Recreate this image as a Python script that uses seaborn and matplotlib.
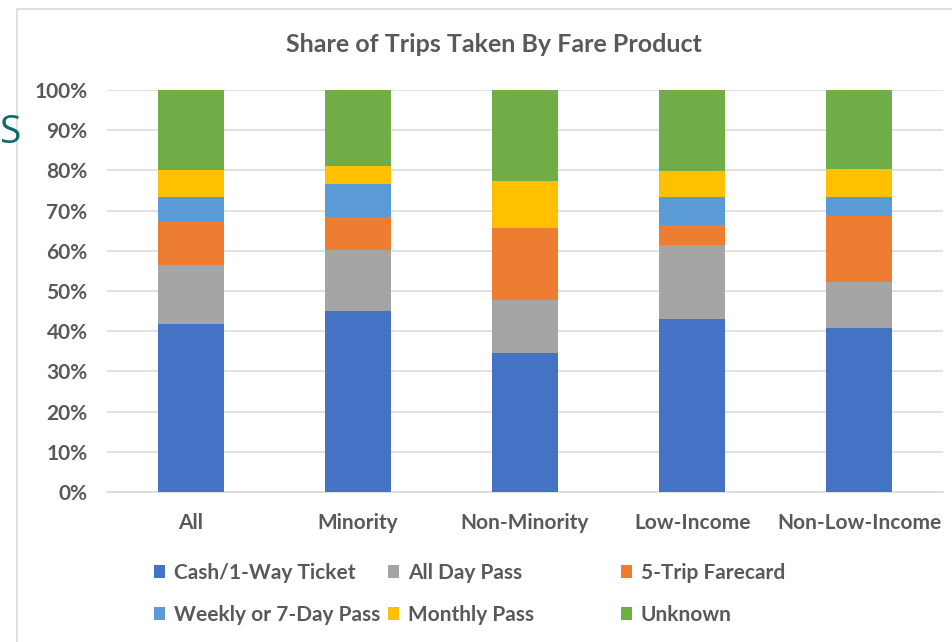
#!/usr/bin/env python3
"""
Share of trips by fare product - 100% stacked bars.
"""

import matplotlib
matplotlib.use("Agg")
import matplotlib.pyplot as plt
from matplotlib.patches import Patch, Rectangle
import pandas as pd
import seaborn as sns

# dati (percentuali per segmento)
groups = ["All", "Minority", "Non-Minority", "Low-Income", "Non-Low-Income"]
products = ["Cash/1-Way Ticket", "All Day Pass", "5-Trip Farecard",
            "Weekly or 7-Day Pass", "Monthly Pass", "Unknown"]
cash = [41.8, 45.0, 34.6, 43.0, 40.8]
all_day = [14.6, 15.3, 13.2, 18.4, 11.4]
five_trip = [10.9, 8.1, 17.8, 5.0, 16.4]
weekly = [6.0, 8.3, 0.0, 7.0, 4.7]
monthly = [6.7, 4.3, 11.7, 6.6, 7.1]
unknown = [20.0, 19.0, 22.7, 20.1, 19.6]

colors = ["#4472C4", "#A5A5A5", "#ED7D31", "#5B9BD5", "#FFC000", "#70AD47"]
TEXT = "#595959"
FS = 15
WEIGHT = "bold"


def main():
    sns.set_style("white")
    plt.rcParams["font.family"] = ["Lato", "DejaVu Sans"]

    df = pd.DataFrame({
        "group": groups,
        products[0]: cash,
        products[1]: all_day,
        products[2]: five_trip,
        products[3]: weekly,
        products[4]: monthly,
        products[5]: unknown,
    })
    # somme cumulate, normalizzate a 100%
    cum = df[products].cumsum(axis=1)
    cum = cum.div(cum[products[-1]], axis=0) * 100
    cum["group"] = df["group"]

    fig = plt.figure(figsize=(9.53, 6.42), dpi=100)
    ax = fig.add_axes([107 / 953, 1 - 492 / 642, 836 / 953, 402 / 642])

    # dall'alto verso il basso: ogni barra copre quella sotto
    for prod, col in reversed(list(zip(products, colors))):
        sns.barplot(data=cum, x="group", y=prod, order=groups, color=col,
                    saturation=1, width=0.395, ax=ax, zorder=3,
                    edgecolor="none", linewidth=0)

    ax.set_ylim(0, 100)
    ax.set_xlim(-0.5, 4.5)
    ax.set_yticks(range(0, 101, 10))
    ax.set_yticklabels([f"{v}%" for v in range(0, 101, 10)])
    ax.yaxis.grid(True, color="#D9D9D9", linewidth=1.1, zorder=0)
    ax.set_axisbelow(True)
    for s in ["top", "right", "left"]:
        ax.spines[s].set_visible(False)
    ax.spines["bottom"].set_color("#D9D9D9")
    ax.spines["bottom"].set_linewidth(1.1)
    ax.set_xlabel("")
    ax.set_ylabel("")
    ax.tick_params(axis="both", length=0, labelsize=FS, labelcolor=TEXT)
    ax.tick_params(axis="x", pad=15)
    ax.tick_params(axis="y", pad=14)
    for lab in ax.get_xticklabels() + ax.get_yticklabels():
        lab.set_fontweight(WEIGHT)

    fig.text(494 / 953, 1 - 45 / 642, "Share of Trips Taken By Fare Product",
             ha="center", va="center", fontsize=18, color=TEXT,
             fontweight=WEIGHT)

    # legenda: tre colonne a larghezza fissa come in Excel
    handles = [Patch(facecolor=c, edgecolor="none") for c in colors]
    col_x = [154, 388, 621]
    for i, x in enumerate(col_x):
        leg = fig.legend([handles[i], handles[i + 3]],
                         [products[i], products[i + 3]],
                         loc="upper left", bbox_to_anchor=(x / 953, 1 - 563 / 642),
                         frameon=False, fontsize=FS, handlelength=0.55,
                         handleheight=0.55, handletextpad=0.4,
                         labelspacing=1.05, borderaxespad=0, borderpad=0)
        for t in leg.get_texts():
            t.set_color(TEXT)
            t.set_fontweight(WEIGHT)

    # bordo del riquadro del grafico
    fig.patches.append(Rectangle((17 / 953, -0.1), 1.2, 1.1 - 9 / 642,
                                 transform=fig.transFigure, fill=False,
                                 edgecolor="#D9D9D9", linewidth=1.2))

    # lettera residua del titolo della slide
    fig.text(0, 1 - 133 / 642, "S", ha="left", va="center",
             fontsize=28, color="#0E6A6C", family="Open Sans")

    fig.savefig("out.png", dpi=100)
    plt.close(fig)


if __name__ == "__main__":
    main()
